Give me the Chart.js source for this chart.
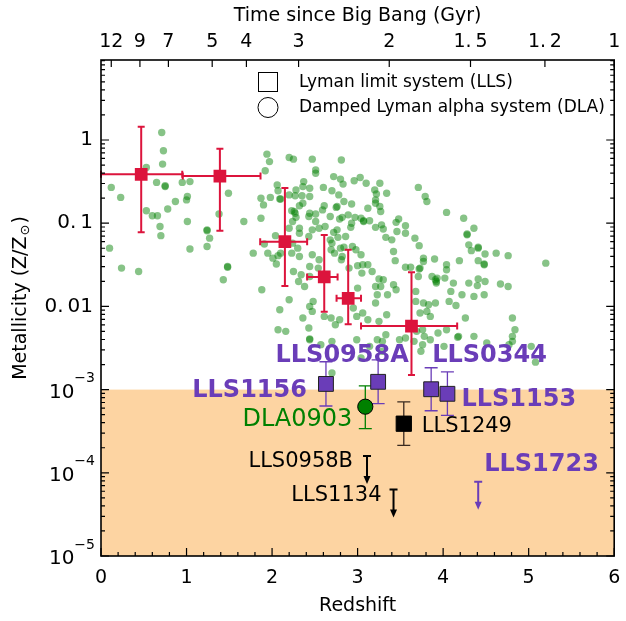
<!DOCTYPE html>
<html>
<head>
<meta charset="utf-8">
<script src="https://cdn.jsdelivr.net/npm/chart.js@4.4.0/dist/chart.umd.min.js"></script>
<style>
  html, body { margin: 0; padding: 0; background: #fff; }
  #wrap { width: 626px; height: 621px; position: relative; }
</style>
</head>
<body>
<div id="wrap"><canvas id="grafico"></canvas></div>
<script>
// literature sample (green dots): redshift and log10(Z/Zsun)
var greenZ = [0.71,0.73,0.53,0.72,0.12,0.65,0.75,0.95,1.04,0.23,0.87,0.78,1.01,1.00,0.53,0.60,0.66,0.69,0.70,1.01,
  1.24,1.27,1.24,1.04,0.10,0.24,0.44,1.48,1.43,1.49,1.38,1.67,1.94,1.97,1.92,1.87,1.90,1.98,2.06,2.07,
  1.87,2.09,1.91,1.95,2.01,2.05,2.04,1.78,2.07,2.20,2.25,2.47,2.51,2.51,2.81,2.72,2.80,2.83,2.96,3.03,
  3.10,3.26,3.20,3.34,3.22,3.21,3.21,3.26,3.27,2.37,2.36,2.44,2.28,2.60,2.70,2.78,2.84,2.44,2.35,2.27,
  2.20,2.10,2.36,2.61,2.75,2.93,3.12,2.23,2.27,2.32,2.44,2.51,2.59,2.68,2.82,2.89,2.93,2.97,3.07,3.21,
  3.28,3.30,3.45,3.48,3.56,3.46,3.56,3.67,3.72,3.79,3.81,3.71,3.33,3.40,3.42,3.44,3.56,3.62,3.72,3.77,
  3.77,3.90,3.87,3.91,3.71,3.42,3.30,3.25,3.21,3.17,3.12,3.06,3.05,3.00,2.90,2.81,2.84,2.80,2.82,2.77,
  2.72,2.76,2.68,2.70,2.69,2.73,2.43,2.47,2.32,2.24,2.30,2.23,2.32,2.47,2.44,2.55,2.54,2.25,2.34,2.31,
  2.38,2.44,2.10,2.24,2.51,2.55,2.62,2.92,2.86,2.98,3.04,2.94,2.79,3.04,3.14,3.00,3.27,2.43,2.28,2.32,
  2.20,4.04,4.24,4.36,4.28,4.30,4.33,4.41,4.49,4.62,4.76,5.20,4.41,4.48,4.19,4.04,4.04,3.93,3.92,4.02,
  4.12,4.30,4.41,4.40,4.49,4.67,4.76,4.09,4.22,4.36,4.48,4.07,4.15,3.77,3.83,3.91,3.73,3.81,3.85,4.26,
  4.81,4.84,4.81,4.36,4.17,4.04,3.76,3.78,3.73,4.81,2.44,2.99,3.29,3.56,3.12,3.25,3.34,3.68,3.68,3.69,
  3.94,4.77,4.51,2.74,2.79,2.69,2.47,2.48,2.44,2.36,2.43,2.61,2.99,2.95,3.06,3.21,3.23,3.35,3.45,2.07,
  2.16,2.57,2.70,2.70,3.14,3.23,3.33,3.49,3.66,3.76,3.74,3.85,4.01,4.18,5.08,5.03,3.04,3.29,2.20,2.09,
  1.88,2.26,2.76,3.07,0.75,1.24,1.48,4.28,4.41,4.48,3.92,2.44];
var greenLogZ = [0.09,-0.13,-0.33,-0.29,-0.57,-0.51,-0.56,-0.51,-0.50,-0.69,-0.74,-0.83,-0.68,-0.72,-0.85,-0.91,-0.91,-1.04,-1.15,-0.98,
  -1.08,-1.18,-1.28,-1.31,-1.30,-1.54,-1.58,-1.52,-1.68,-0.64,-0.89,-0.98,-0.17,-0.26,-0.37,-0.70,-0.78,-0.69,-0.54,-0.61,
  -0.94,-0.71,-1.25,-1.36,-1.42,-1.49,-1.15,-1.36,-1.39,-0.21,-0.23,-0.23,-0.36,-0.40,-0.24,-0.44,-0.47,-0.53,-0.49,-0.45,
  -0.52,-0.52,-0.60,-0.64,-0.65,-0.72,-0.76,-0.80,-0.86,-0.50,-0.56,-0.58,-0.60,-0.57,-0.61,-0.66,-0.74,-0.68,-0.67,-0.67,
  -0.66,-0.71,-0.76,-0.79,-0.81,-0.77,-0.82,-0.85,-0.88,-0.79,-0.88,-0.89,-0.84,-0.92,-0.93,-0.90,-1.00,-0.93,-0.97,-1.05,
  -1.02,-1.07,-0.99,-0.95,-1.03,-1.10,-1.12,-1.18,-1.27,-0.68,-0.74,-0.57,-1.17,-1.20,-1.34,-1.45,-1.53,-1.53,-1.55,-1.42,
  -1.46,-1.43,-1.64,-1.68,-1.64,-1.74,-1.68,-1.67,-1.76,-1.58,-1.50,-1.50,-1.60,-1.51,-1.54,-1.44,-1.29,-1.30,-1.40,-1.17,
  -1.11,-1.08,-1.20,-1.24,-1.32,-1.36,-1.16,-1.08,-1.12,-1.24,-1.30,-1.36,-1.40,-1.38,-1.52,-1.44,-1.54,-1.58,-1.62,-1.70,
  -1.76,-1.64,-1.36,-0.98,-0.98,-1.06,-1.04,-1.05,-1.16,-1.32,-1.38,-1.28,-0.95,-0.94,-0.97,-1.78,-1.76,-0.92,-0.93,-1.06,
  -1.06,-0.87,-0.94,-1.06,-1.14,-1.26,-1.33,-1.29,-1.37,-1.36,-1.39,-1.48,-1.45,-1.49,-1.45,-1.50,-1.56,-1.66,-1.72,-1.66,
  -1.72,-1.72,-1.67,-1.75,-1.70,-1.73,-1.76,-1.82,-1.86,-1.88,-1.86,-1.94,-1.99,-1.96,-1.98,-1.96,-2.08,-2.06,-2.12,-2.14,
  -2.14,-2.28,-2.36,-2.36,-2.37,-2.28,-2.28,-2.36,-1.54,-2.42,-2.40,-2.40,-2.42,-2.38,-2.16,-2.18,-2.10,-1.82,-1.94,-2.30,
  -2.32,-2.46,-2.44,-2.22,-2.16,-2.14,-2.06,-1.94,-2.00,-2.14,-2.26,-2.12,-2.12,-2.02,-2.08,-1.96,-1.86,-1.86,-1.80,-2.28,
  -2.30,-2.46,-2.42,-2.80,-2.48,-2.40,-2.34,-2.40,-2.42,-2.46,-2.54,-2.40,-2.48,-2.36,-2.67,-2.48,-2.62,-2.54,-1.92,-2.04,
  -1.80,-0.86,-0.80,-0.98,-0.55,-1.09,-1.53,-1.13,-1.30,-1.50,-1.70,-2.39];

// binned medians (red squares)
var binZ = [0.47, 1.39, 2.15, 2.61, 2.89, 3.63];
var binMet = [0.387, 0.369, 0.060, 0.0226, 0.0125, 0.0058];
var binZLo = [0.0, 0.956, 1.861, 2.41, 2.754, 3.04];
var binZHi = [0.95, 1.865, 2.41, 2.766, 3.04, 4.164];
var binMetLo = [0.078, 0.081, 0.0176, 0.0086, 0.0061, 0.0015];
var binMetHi = [1.44, 0.786, 0.265, 0.072, 0.048, 0.0257];

// pristine LLS (purple squares)
var llsNames = ['LLS1156', 'LLS0958A', 'LLS0344', 'LLS1153'];
var llsZ = [2.63, 3.24, 3.86, 4.05];
var llsMet = [0.00117, 0.00124, 0.00101, 0.00089];
var llsMetLo = [0.000635, 0.00068, 0.000557, 0.00049];
var llsMetHi = [0.00216, 0.00227, 0.00183, 0.00163];

// DLA0903 (green circle) and LLS1249 (black square)
var dlaZ = [3.09], dlaMet = [0.000623], dlaMetLo = [0.000339], dlaMetHi = [0.00111];
var blackZ = [3.54], blackMet = [0.000389], blackMetLo = [0.000214], blackMetHi = [0.00071];

// upper limits (arrows)
var limNames = ['LLS0958B', 'LLS1134', 'LLS1723'];
var limZ = [3.11, 3.42, 4.41];
var limMet = [0.000159, 0.000063, 0.000078];

// shaded region
var bandLow = 1e-5, bandHigh = 1e-3;

// axes
var ageLabels = ['12', '9', '7', '5', '4', '3', '2', '1.\u20095', '1.\u20092', '1'];
var ageZ = [0.12, 0.455, 0.788, 1.30, 1.70, 2.31, 3.37, 4.32, 5.19, 6.0];
var yTickValues = [1e-5, 1e-4, 1e-3, 0.01, 0.1, 1];
var yTickLabels = ['10^\u22125', '10^\u22124', '10^\u22123', '0.\u200901', '0.\u20091', '1'];

var FONT = "'DejaVu Sans', sans-serif";
var ROXO = '#6a3db8';
var VERMELHO = '#dc143c';

function pontos(xs, ys) {
  return xs.map(function (v, i) { return { x: v, y: ys[i] }; });
}

function barraY(ctx, x, y1, y2, cap) {
  ctx.beginPath();
  ctx.moveTo(x, y1); ctx.lineTo(x, y2);
  ctx.moveTo(x - cap, y1); ctx.lineTo(x + cap, y1);
  ctx.moveTo(x - cap, y2); ctx.lineTo(x + cap, y2);
  ctx.stroke();
}
function barraX(ctx, y, x1, x2, cap) {
  ctx.beginPath();
  ctx.moveTo(x1, y); ctx.lineTo(x2, y);
  ctx.moveTo(x1, y - cap); ctx.lineTo(x1, y + cap);
  ctx.moveTo(x2, y - cap); ctx.lineTo(x2, y + cap);
  ctx.stroke();
}
function seta(ctx, x, y, cor) {
  var len = 28;
  ctx.strokeStyle = cor; ctx.fillStyle = cor; ctx.lineWidth = 2;
  ctx.beginPath();
  ctx.moveTo(x, y); ctx.lineTo(x, y + len - 6);
  ctx.moveTo(x - 4, y); ctx.lineTo(x + 4, y);
  ctx.stroke();
  ctx.beginPath();
  ctx.moveTo(x - 3.5, y + len - 8); ctx.lineTo(x + 3.5, y + len - 8); ctx.lineTo(x, y + len);
  ctx.closePath(); ctx.fill();
}
function texto(ctx, t, x, y, align, font, cor) {
  ctx.font = font; ctx.fillStyle = cor; ctx.textAlign = align; ctx.textBaseline = 'middle';
  ctx.fillText(t, x, y);
}

var fundo = {
  id: 'fundo',
  beforeDatasetsDraw: function (chart) {
    var ctx = chart.ctx, a = chart.chartArea, y = chart.scales.y;
    var top = y.getPixelForValue(bandHigh), bottom = y.getPixelForValue(bandLow);
    ctx.save();
    ctx.fillStyle = '#fdd4a2';
    ctx.fillRect(a.left, top, a.right - a.left, bottom - top);
    ctx.restore();
  },
  afterDatasetDraw: function (chart, args) {
    if (chart.data.datasets[args.index].label !== 'literatura') return;
    var ctx = chart.ctx, x = chart.scales.x, y = chart.scales.y;
    ctx.save();
    // red bins
    ctx.strokeStyle = VERMELHO; ctx.lineWidth = 2;
    for (var i = 0; i < binZ.length; i++) {
      var px = x.getPixelForValue(binZ[i]), py = y.getPixelForValue(binMet[i]);
      barraY(ctx, px, y.getPixelForValue(binMetHi[i]), y.getPixelForValue(binMetLo[i]), 3.5);
      barraX(ctx, py, x.getPixelForValue(binZLo[i]), x.getPixelForValue(binZHi[i]), 3.5);
    }
    // purple LLS
    ctx.strokeStyle = ROXO; ctx.lineWidth = 1.3;
    for (var j = 0; j < llsZ.length; j++) {
      barraY(ctx, x.getPixelForValue(llsZ[j]), y.getPixelForValue(llsMetHi[j]), y.getPixelForValue(llsMetLo[j]), 6.5);
    }
    ctx.strokeStyle = '#008000';
    barraY(ctx, x.getPixelForValue(dlaZ[0]), y.getPixelForValue(dlaMetHi[0]), y.getPixelForValue(dlaMetLo[0]), 6.5);
    ctx.strokeStyle = '#3a2a20';
    barraY(ctx, x.getPixelForValue(blackZ[0]), y.getPixelForValue(blackMetHi[0]), y.getPixelForValue(blackMetLo[0]), 6.5);
    // upper limits
    var cores = ['#000', '#000', ROXO];
    for (var k = 0; k < limZ.length; k++) {
      seta(ctx, x.getPixelForValue(limZ[k]), y.getPixelForValue(limMet[k]), cores[k]);
    }
    ctx.restore();
  },
  afterDatasetsDraw: function (chart) {
    var ctx = chart.ctx, x = chart.scales.x, y = chart.scales.y;
    var bold = 'bold 24px ' + FONT;
    var p = function (z, m) { return [x.getPixelForValue(z), y.getPixelForValue(m)]; };
    ctx.save();
    var a = p(llsZ[0], llsMet[0]); texto(ctx, llsNames[0], a[0] - 19, a[1] + 7, 'right', bold, ROXO);
    a = p(llsZ[1], llsMet[1]); texto(ctx, llsNames[1], a[0] - 36, a[1] - 26, 'center', bold, ROXO);
    a = p(llsZ[2], llsMet[2]); texto(ctx, llsNames[2], a[0] + 1, a[1] - 33, 'left', bold, ROXO);
    a = p(llsZ[3], llsMet[3]); texto(ctx, llsNames[3], a[0] + 14, a[1] + 6, 'left', bold, ROXO);
    a = p(dlaZ[0], dlaMet[0]); texto(ctx, 'DLA0903', a[0] - 13, a[1] + 13, 'right', '24px ' + FONT, '#008000');
    a = p(blackZ[0], blackMet[0]); texto(ctx, 'LLS1249', a[0] + 18, a[1] + 3, 'left', '21px ' + FONT, '#000');
    a = p(limZ[0], limMet[0]); texto(ctx, limNames[0], a[0] - 14, a[1] + 6, 'right', '21px ' + FONT, '#000');
    a = p(limZ[1], limMet[1]); texto(ctx, limNames[1], a[0] - 12, a[1] + 6, 'right', '21px ' + FONT, '#000');
    a = p(limZ[2], limMet[2]); texto(ctx, limNames[2], a[0] + 6, a[1] - 17, 'left', bold, ROXO);

    // legend
    ctx.strokeStyle = '#000'; ctx.lineWidth = 1;
    ctx.strokeRect(258.5, 72.5, 19, 19);
    ctx.beginPath(); ctx.arc(268, 107.5, 10, 0, 2 * Math.PI); ctx.stroke();
    texto(ctx, 'Lyman limit system (LLS)', 299, 83, 'left', '17px ' + FONT, '#000');
    texto(ctx, 'Damped Lyman alpha system (DLA)', 299, 107.5, 'left', '17px ' + FONT, '#000');
    ctx.restore();
  },
  afterDraw: function (chart) {
    var ctx = chart.ctx, a = chart.chartArea, x = chart.scales.x, y = chart.scales.y;
    ctx.save();
    ctx.strokeStyle = '#000'; ctx.lineWidth = 1.2;
    ctx.beginPath();
    // bottom ticks
    for (var i = 0; i <= 30; i++) {
      var px = x.getPixelForValue(i / 5), len = i % 5 === 0 ? 8 : 4;
      ctx.moveTo(px, a.bottom); ctx.lineTo(px, a.bottom - len);
    }
    // top ticks
    ageZ.forEach(function (v) {
      var px = chart.scales.x2.getPixelForValue(v);
      ctx.moveTo(px, a.top); ctx.lineTo(px, a.top + 7);
    });
    // y ticks both sides
    for (var d = -5; d <= 0; d++) {
      for (var m = 1; m <= 9; m++) {
        var v = m * Math.pow(10, d);
        if (v > y.max) continue;
        var py = y.getPixelForValue(v), l = m === 1 ? 8 : 4;
        ctx.moveTo(a.left, py); ctx.lineTo(a.left + l, py);
        ctx.moveTo(a.right, py); ctx.lineTo(a.right - l, py);
      }
    }
    ctx.stroke();
    ctx.lineWidth = 1.6;
    ctx.strokeRect(a.left, a.top, a.right - a.left, a.bottom - a.top);

    // y tick labels
    ctx.fillStyle = '#000'; ctx.textAlign = 'right'; ctx.textBaseline = 'middle';
    yTickValues.forEach(function (v, i) {
      var py = y.getPixelForValue(v), lab = yTickLabels[i];
      if (lab.indexOf('^') >= 0) {
        var partes = lab.split('^');
        ctx.font = '14px ' + FONT;
        var ew = ctx.measureText(partes[1]).width;
        ctx.fillText(partes[1], 95, py - 11);
        ctx.font = '20px ' + FONT;
        ctx.fillText(partes[0], 95 - ew, py + 3);
      } else {
        ctx.font = '20px ' + FONT;
        ctx.fillText(lab, 93, py);
      }
    });

    // y title
    ctx.translate(21, 298);
    ctx.rotate(-Math.PI / 2);
    ctx.textAlign = 'left';
    ctx.font = '19px ' + FONT;
    var t1 = 'Metallicity (Z/Z', t3 = ')';
    var w1 = ctx.measureText(t1).width, w3 = ctx.measureText(t3).width;
    ctx.font = '13px ' + FONT;
    var w2 = ctx.measureText('\u2299').width;
    var x0 = -(w1 + w2 + w3 + 2) / 2;
    ctx.font = '19px ' + FONT;
    ctx.fillText(t1, x0, 0);
    ctx.font = '13px ' + FONT;
    ctx.fillText('\u2299', x0 + w1 + 1, 5);
    ctx.font = '19px ' + FONT;
    ctx.fillText(t3, x0 + w1 + w2 + 2, 0);
    ctx.restore();
  }
};

var dash = document.getElementById('grafico');

new Chart(dash, {
  type: 'scatter',
  data: {
    datasets: [
      {
        label: 'literatura',
        data: pontos(greenZ, greenLogZ.map(function (v) { return Math.pow(10, v); })),
        backgroundColor: 'rgba(0,128,0,0.47)',
        borderWidth: 0,
        pointRadius: 3.7,
        order: 10
      },
      {
        label: 'bins',
        data: pontos(binZ, binMet),
        pointStyle: 'rect',
        pointRadius: 9,
        backgroundColor: VERMELHO,
        borderWidth: 0,
        order: 2
      },
      {
        label: 'lls',
        data: pontos(llsZ, llsMet),
        pointStyle: 'rect',
        pointRadius: 10.5,
        backgroundColor: ROXO,
        borderColor: '#222',
        borderWidth: 1,
        order: 1
      },
      {
        label: 'dla',
        data: pontos(dlaZ, dlaMet),
        pointStyle: 'circle',
        pointRadius: 7.6,
        backgroundColor: '#008000',
        borderColor: '#000',
        borderWidth: 1,
        order: 1
      },
      {
        label: 'lls1249',
        data: pontos(blackZ, blackMet),
        pointStyle: 'rect',
        pointRadius: 10.8,
        backgroundColor: '#000',
        borderColor: '#000',
        borderWidth: 1,
        order: 1
      }
    ]
  },
  options: {
    responsive: true,
    maintainAspectRatio: false,
    animation: false,
    events: [],
    layout: { padding: { left: 0, right: 9, top: 0, bottom: 0 } },
    plugins: { legend: { display: false }, tooltip: { enabled: false } },
    scales: {
      x: {
        type: 'linear', position: 'bottom', min: 0, max: 6,
        afterFit: function (axis) { axis.height = 65; },
        grid: { display: false }, border: { display: false },
        ticks: { stepSize: 1, color: '#000', padding: 3, maxRotation: 0, font: { family: FONT, size: 19 } },
        title: { display: true, text: 'Redshift', color: '#000', font: { family: FONT, size: 19 }, padding: { top: 0, bottom: 4 } }
      },
      x2: {
        type: 'linear', position: 'top', min: 0, max: 6,
        afterBuildTicks: function (axis) { axis.ticks = ageZ.map(function (v) { return { value: v }; }); },
        afterFit: function (axis) { axis.height = 60; },
        grid: { display: false }, border: { display: false },
        ticks: {
          autoSkip: false, maxRotation: 0, color: '#000', padding: -1, font: { family: FONT, size: 19 },
          callback: function (value, index) { return ageLabels[index]; }
        },
        title: { display: true, text: 'Time since Big Bang (Gyr)', color: '#000', font: { family: FONT, size: 19 }, padding: { top: 5, bottom: 0 } }
      },
      y: {
        type: 'logarithmic', position: 'left', min: 1e-5, max: 9.15,
        afterFit: function (axis) { axis.width = 101; },
        grid: { display: false }, border: { display: false },
        ticks: { display: false }
      }
    }
  },
  plugins: [fundo]
});
</script>
</body>
</html>
